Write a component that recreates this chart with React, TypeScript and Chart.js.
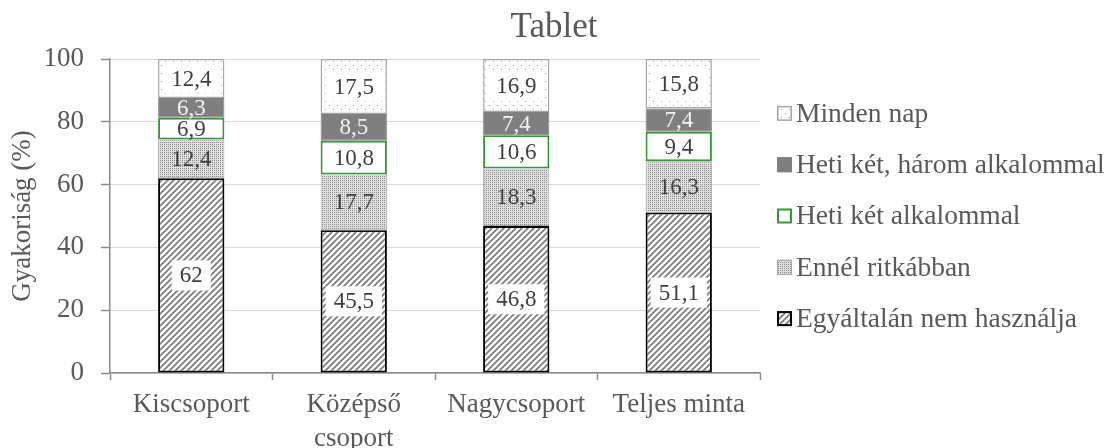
import React, { useEffect, useRef } from 'react';
import { Chart, registerables } from 'chart.js';

Chart.register(...registerables);

// ---- Data ----
const categories: (string | string[])[] = ['Kiscsoport', ['Középső', 'csoport'], 'Nagycsoport', 'Teljes minta'];
const seriesNames = [
  'Egyáltalán nem használja',
  'Ennél ritkábban',
  'Heti két alkalommal',
  'Heti két, három alkalommal',
  'Minden nap',
];
const egyaltalan = [62, 45.5, 46.8, 51.1];
const ennelRitkabban = [12.4, 17.7, 18.3, 16.3];
const hetiKet = [6.9, 10.8, 10.6, 9.4];
const hetiKetHarom = [6.3, 8.5, 7.4, 7.4];
const mindenNap = [12.4, 17.5, 16.9, 15.8];
const yTickValues = [0, 20, 40, 60, 80, 100];

const FONT = '"Liberation Serif", "Times New Roman", serif';
const TEXT = '#595959';

function makePattern(size: number, draw: (g: CanvasRenderingContext2D, s: number) => void) {
  const c = document.createElement('canvas');
  c.width = size;
  c.height = size;
  const g = c.getContext('2d')!;
  draw(g, size);
  return g.createPattern(c, 'repeat') as CanvasPattern;
}

export default function App() {
  const ref = useRef<HTMLCanvasElement | null>(null);

  useEffect(() => {
    if (!ref.current) return;

    const hatch = makePattern(6, (g, s) => {
      g.fillStyle = '#ffffff';
      g.fillRect(0, 0, s, s);
      g.strokeStyle = '#7a7a7a';
      g.lineWidth = 1.7;
      g.beginPath();
      g.moveTo(-1, s + 1);
      g.lineTo(s + 1, -1);
      g.moveTo(-1, 1);
      g.lineTo(1, -1);
      g.moveTo(s - 1, s + 1);
      g.lineTo(s + 1, s - 1);
      g.stroke();
    });
    const denseDots = makePattern(2, (g, s) => {
      g.fillStyle = '#e0e0e0';
      g.fillRect(0, 0, s, s);
      g.fillStyle = '#8a8a8a';
      g.fillRect(0, 0, 1, 1);
    });
    const sparseDots = makePattern(8, (g, s) => {
      g.fillStyle = '#ffffff';
      g.fillRect(0, 0, s, s);
      g.fillStyle = '#9a9a9a';
      g.fillRect(1, 1, 1, 1);
      g.fillRect(5, 5, 1, 1);
    });

    const seriesValues = [egyaltalan, ennelRitkabban, hetiKet, hetiKetHarom, mindenNap];
    const fills = [hatch, denseDots, '#ffffff', '#7f7f7f', sparseDots];
    const borders = ['#000000', '#a6a6a6', '#339933', '#7f7f7f', '#a6a6a6'];
    const borderWidths = [2, 1, 2, 1, 1.5];
    const labelColors = ['#404040', '#404040', '#404040', '#f2f2f2', '#404040'];
    const labelBg = [true, false, false, false, true];

    const labelPlugin = {
      id: 'segLabels',
      afterDatasetsDraw(chart: any) {
        const ctx = chart.ctx as CanvasRenderingContext2D;
        chart.data.datasets.forEach((ds: any, di: number) => {
          const meta = chart.getDatasetMeta(di);
          meta.data.forEach((el: any, i: number) => {
            const v = ds.data[i];
            const { x, y, base } = el.getProps(['x', 'y', 'base'], true);
            const cy = (y + base) / 2;
            const txt = String(v).replace('.', ',');
            ctx.save();
            ctx.font = `23px ${FONT}`;
            const w = ctx.measureText(txt).width;
            if (labelBg[di]) {
              ctx.fillStyle = '#ffffff';
              ctx.fillRect(x - w / 2 - 8, cy - 15, w + 16, 30);
            }
            ctx.fillStyle = labelColors[di];
            ctx.textAlign = 'center';
            ctx.textBaseline = 'middle';
            ctx.fillText(txt, x, cy + 1);
            ctx.restore();
          });
        });
      },
    };

    const legendPlugin = {
      id: 'sideLegend',
      afterDraw(chart: any) {
        const ctx = chart.ctx as CanvasRenderingContext2D;
        const area = chart.chartArea;
        const n = chart.data.datasets.length;
        const spacing = 51.3;
        const cy = (area.top + area.bottom) / 2;
        const boxS = 15;
        const boxX = area.right + 17;
        const textX = boxX + boxS + 4;
        ctx.save();
        ctx.font = `27.5px ${FONT}`;
        ctx.textBaseline = 'middle';
        ctx.textAlign = 'left';
        for (let k = 0; k < n; k++) {
          const di = n - 1 - k;
          const ds = chart.data.datasets[di];
          const y = cy + (k - (n - 1) / 2) * spacing;
          ctx.fillStyle = ds.backgroundColor;
          ctx.fillRect(boxX, y - boxS / 2, boxS, boxS);
          ctx.strokeStyle = ds.borderColor;
          ctx.lineWidth = borderWidths[di];
          const bw = borderWidths[di];
          ctx.strokeRect(boxX + bw / 2, y - boxS / 2 + bw / 2, boxS - bw, boxS - bw);
          ctx.fillStyle = TEXT;
          ctx.fillText(ds.label, textX, y + 1);
        }
        ctx.restore();
      },
    };

    const chart = new Chart(ref.current, {
      type: 'bar',
      data: {
        labels: categories as any,
        datasets: seriesNames.map((name, di) => ({
          label: name,
          data: seriesValues[di],
          backgroundColor: fills[di] as any,
          borderColor: borders[di],
          borderWidth: borderWidths[di],
          borderSkipped: false,
          barPercentage: 0.408,
          categoryPercentage: 1,
        })),
      },
      options: {
        responsive: false,
        animation: false,
        events: [],
        layout: { padding: 0 },
        plugins: {
          legend: { display: false },
          tooltip: { enabled: false },
          title: {
            display: true,
            text: 'Tablet',
            color: TEXT,
            font: { family: FONT, size: 35, weight: 'normal' },
            padding: { top: 7, bottom: 10 },
          },
        },
        scales: {
          x: {
            stacked: true,
            offset: true,
            grid: {
              display: true,
              offset: true,
              drawOnChartArea: false,
              drawTicks: true,
              tickLength: 7,
              tickColor: '#8c8c8c',
              tickWidth: 1.5,
            },
            border: { display: true, color: '#8c8c8c', width: 1.5 },
            ticks: {
              color: TEXT,
              font: { family: FONT, size: 27, lineHeight: 1.25 },
              padding: 8,
              maxRotation: 0,
              autoSkip: false,
            },
            afterFit(scale: any) {
              scale.height = 75;
            },
          },
          y: {
            stacked: true,
            min: 0,
            max: 100,
            afterBuildTicks(scale: any) {
              scale.ticks = yTickValues.map((v) => ({ value: v }));
            },
            grid: {
              color: '#d9d9d9',
              lineWidth: 1,
              drawTicks: true,
              tickLength: 9,
              tickColor: '#8c8c8c',
              tickWidth: 1.5,
            },
            border: { display: true, color: '#8c8c8c', width: 1.5 },
            ticks: {
              color: TEXT,
              font: { family: FONT, size: 27 },
              padding: 17,
            },
            title: {
              display: true,
              text: 'Gyakoriság (%)',
              color: TEXT,
              font: { family: FONT, size: 27 },
              padding: { top: 7, bottom: 4 },
            },
            afterFit(scale: any) {
              scale.width = 110;
            },
          },
          // empty right-hand axis that reserves the space where the legend is drawn
          legendSpace: {
            type: 'linear',
            position: 'right',
            display: true,
            grid: { display: false, drawTicks: false },
            border: { display: false },
            ticks: { display: false },
            afterFit(scale: any) {
              scale.width = 1108 - 760;
            },
          } as any,
        },
      },
      plugins: [labelPlugin, legendPlugin],
    });

    return () => chart.destroy();
  }, []);

  return (
    <div style={{ position: 'absolute', left: 0, top: 0, width: 1108, height: 448, background: '#ffffff' }}>
      <canvas ref={ref} width={1108} height={448} style={{ display: 'block' }} />
    </div>
  );
}
